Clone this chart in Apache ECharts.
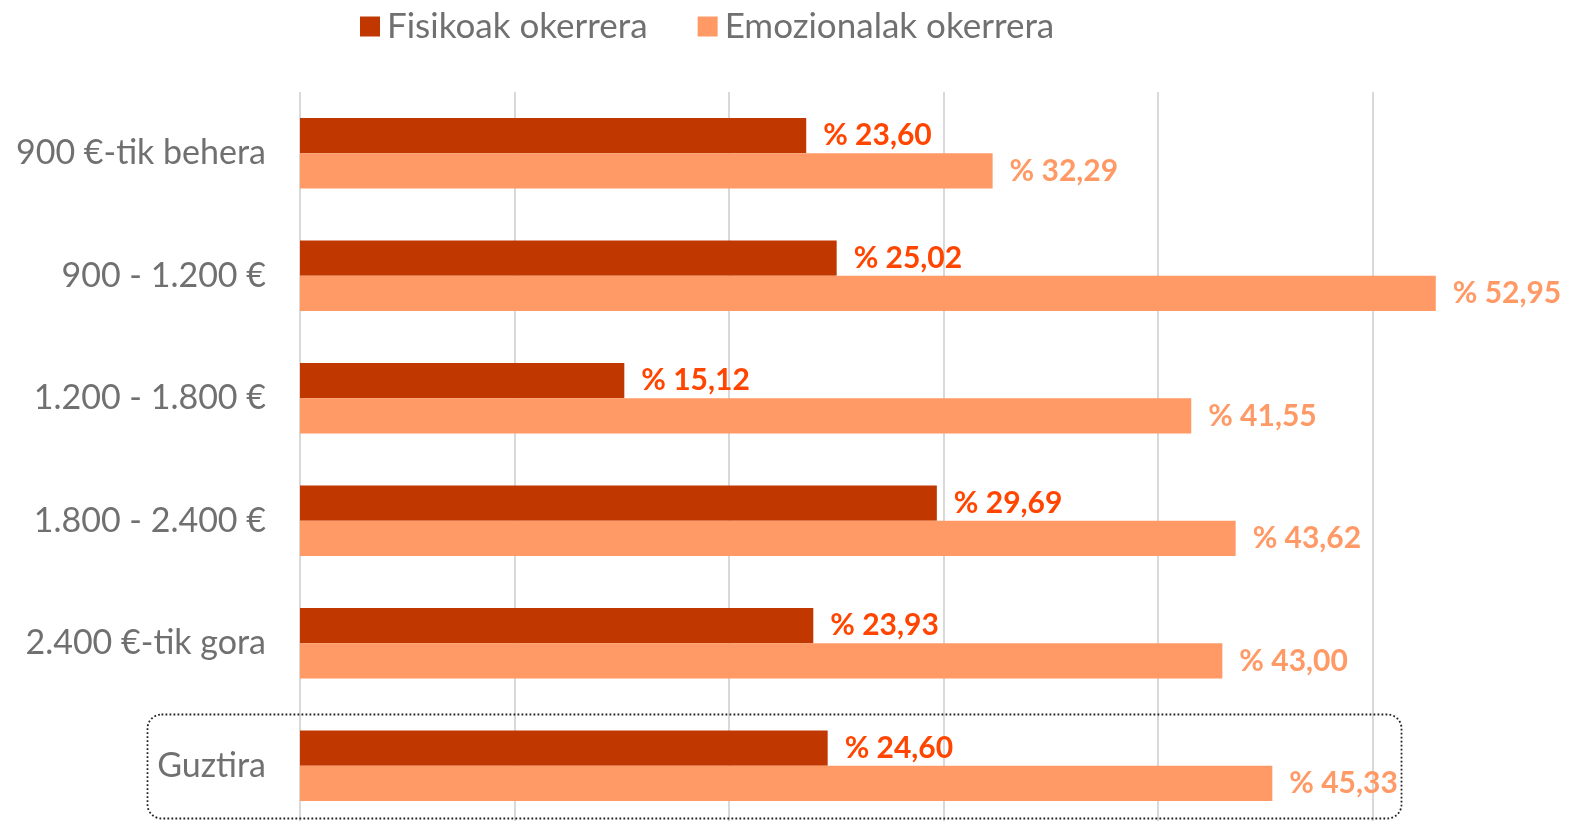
<!DOCTYPE html>
<html><head><meta charset="utf-8">
<script src="https://cdn.jsdelivr.net/npm/echarts@6/dist/echarts.min.js"></script>
<style>html,body{margin:0;padding:0;background:#fff}#c{width:1575px;height:821px}</style>
</head><body><div id="c"></div>
<script>
const categories = ["900 €-tik behera", "900 - 1.200 €", "1.200 - 1.800 €", "1.800 - 2.400 €", "2.400 €-tik gora", "Guztira"];
const seriesNames = ["Fisikoak okerrera", "Emozionalak okerrera"];
const fisikoak = [23.60, 25.02, 15.12, 29.69, 23.93, 24.60];
const emozionalak = [32.29, 52.95, 41.55, 43.62, 43.00, 45.33];

const FONT = "Lato";
const TEXT = '#707070';
const fmt = p => '% ' + p.value.toFixed(2).replace('.', ',');
const chart = echarts.init(document.getElementById('c'));
chart.setOption({
  animation: false,
  textStyle: { fontFamily: FONT },
  legend: {
    top: 4, left: 355, itemWidth: 20, itemHeight: 20, itemGap: 50, icon: 'rect',
    textStyle: { fontSize: 35, color: TEXT, fontFamily: FONT, padding: [0, 0, 0, 2] },
    data: seriesNames
  },
  grid: { left: 300, top: 92, width: 1287, height: 735, containLabel: false, outerBoundsMode: 'none' },
  xAxis: {
    type: 'value', min: 0, max: 60, interval: 10,
    axisLabel: { show: false }, axisLine: { show: false }, axisTick: { show: false },
    splitLine: { lineStyle: { color: '#d9d9d9', width: 2 } }
  },
  yAxis: {
    type: 'category', data: categories, inverse: true,
    axisLine: { show: false }, axisTick: { show: false },
    axisLabel: { fontSize: 34, color: TEXT, margin: 34, fontFamily: FONT }
  },
  series: [
    { name: seriesNames[0], type: 'bar', data: fisikoak, barGap: '0%', barCategoryGap: '42.6%',
      itemStyle: { color: '#C03800' },
      label: { show: true, position: 'right', distance: 17, formatter: fmt, color: '#FF4500', fontWeight: 'bold', fontSize: 30, fontFamily: FONT } },
    { name: seriesNames[1], type: 'bar', data: emozionalak, barGap: '0%', barCategoryGap: '42.6%',
      itemStyle: { color: '#FF9966' },
      label: { show: true, position: 'right', distance: 17, formatter: fmt, color: '#FF9966', fontWeight: 'bold', fontSize: 30, fontFamily: FONT } }
  ],
  graphic: [{
    type: 'rect', shape: { x: 147.5, y: 714.5, width: 1254, height: 104, r: 14 },
    style: { fill: 'none', stroke: '#222', lineWidth: 1.8, lineDash: [1.8, 2.2] }, z: 10
  }]
});
</script></body></html>
